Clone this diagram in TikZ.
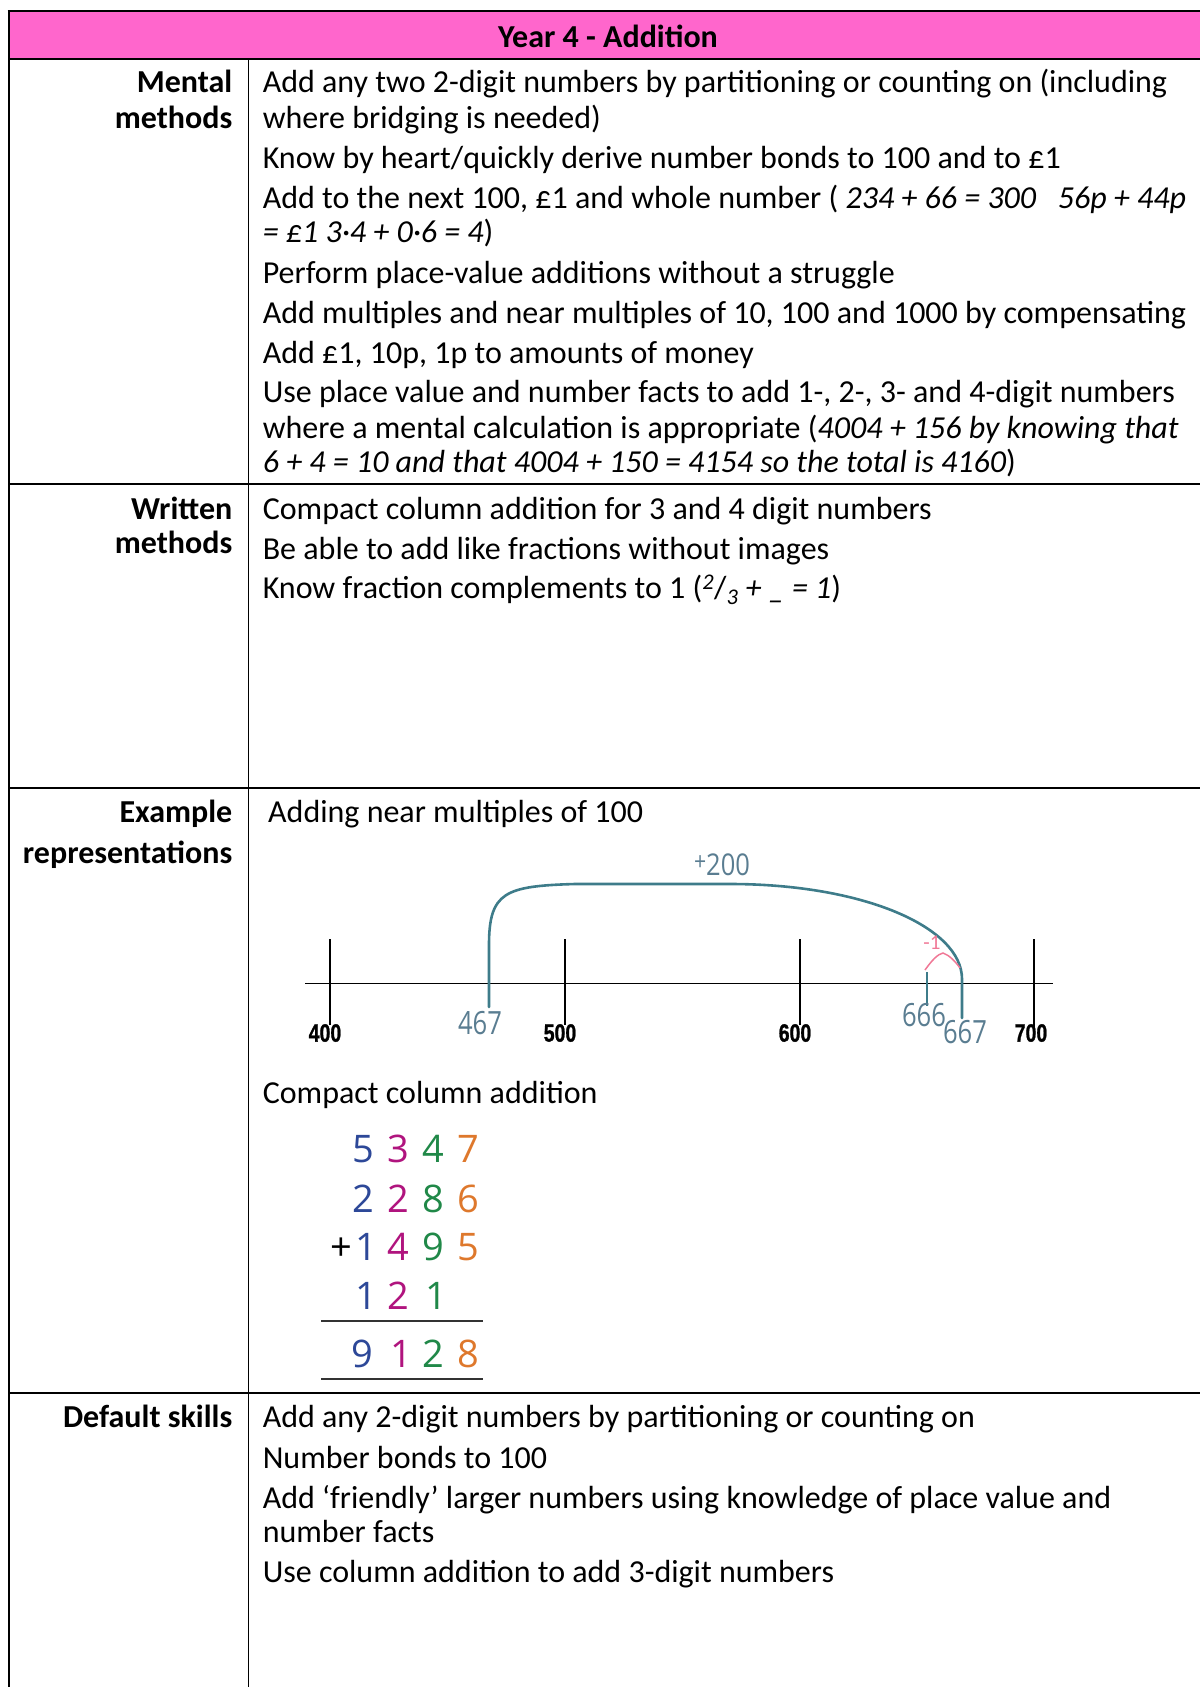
\documentclass[tikz,border=0pt]{standalone}
\usepackage{fontspec}
\setmainfont{Carlito}
\newfontfamily\digitfont{Open Sans}
\newfontfamily\tickfont[FakeBold=1.2]{Liberation Sans}
\begin{document}
\begin{tikzpicture}[x=1pt,y=-1pt]
\definecolor{headpink}{RGB}{255,102,204}
\definecolor{arcteal}{RGB}{62,124,138}
\definecolor{numgrey}{RGB}{90,125,145}
\definecolor{jumppink}{RGB}{240,120,150}
\definecolor{cblue}{RGB}{45,72,152}
\definecolor{cmag}{RGB}{176,20,126}
\definecolor{cgreen}{RGB}{32,136,72}
\definecolor{corange}{RGB}{222,120,44}
\tikzset{
  body/.style={anchor=base west, inner sep=0pt, font=\fontsize{32}{35.5}\selectfont},
  lab/.style={anchor=base east, inner sep=0pt, font=\fontsize{32}{35.5}\selectfont\bfseries},
  rule/.style={line width=2pt},
  thinrule/.style={line width=1.2pt},
  dig/.style={anchor=base, inner sep=0pt, font=\digitfont\fontsize{38}{38}\selectfont},
  ticklab/.style={anchor=center, inner sep=0pt, font=\tickfont\bfseries\fontsize{25}{25}\selectfont, xscale=0.78},
  handlab/.style={anchor=center, inner sep=0pt, text=numgrey, font=\digitfont\fontsize{32}{32}\selectfont, xscale=0.8},
}
\useasboundingbox (0,0) rectangle (1200,1687);

% header band
\fill[headpink] (8.6,10.8) rectangle (1200,59);
\node[inner sep=0pt, font=\fontsize{32}{35.5}\selectfont\bfseries] (title) at (608,36.5) {Year 4 - Addition};

% table rules
\draw[rule] (7.6,10.8) -- (1200,10.8);
\draw[rule] (8.6,10.8) -- (8.6,1687);
\draw[rule] (8.6,59) -- (1200,59);
\draw[rule] (8.6,484.3) -- (1200,484.3);
\draw[rule] (8.6,787.8) -- (1200,787.8);
\draw[rule] (8.6,1392.6) -- (1200,1392.6);
\draw[thinrule] (248.6,59) -- (248.6,1687);

\begin{scope}[yshift=-1.5pt]
% row labels
\node[lab] (l1a) at (232.5,91) {Mental};
\node[lab] (l1b) at (232.5,126.5) {methods};
\node[lab] (l2a) at (232.5,517.5) {Written};
\node[lab] (l2b) at (232.5,551.5) {methods};
\node[lab] (l3a) at (232.5,821) {Example};
\node[lab] (l3b) at (232.5,861.5) {representations};
\node[lab] (l4a) at (232.5,1425.5) {Default skills};

% mental methods
\node[body] (m1) at (262.6,91) {Add any two 2-digit numbers by partitioning or counting on (including};
\node[body] (m2) at (262.6,126.5) {where bridging is needed)};
\node[body] (m3) at (262.6,166.5) {Know by heart/quickly derive number bonds to 100 and to £1};
\node[body] (m4) at (262.6,206.5) {Add to the next 100, £1 and whole number ( \textit{234 + 66 = 300\ \ \ 56p + 44p}};
\node[body] (m5) at (262.6,240.8) {\textit{= £1 3·4 + 0·6 = 4})};
\node[body] (m6) at (262.6,281.5) {Perform place-value additions without a struggle};
\node[body] (m7) at (262.6,321.5) {Add multiples and near multiples of 10, 100 and 1000 by compensating};
\node[body] (m8) at (262.6,361.5) {Add £1, 10p, 1p to amounts of money};
\node[body] (m9) at (262.6,401) {Use place value and number facts to add 1-, 2-, 3- and 4-digit numbers};
\node[body] (m10) at (262.6,436.5) {where a mental calculation is appropriate (\textit{4004 + 156 by knowing that}};
\node[body] (m11) at (262.6,471) {\textit{6 + 4 = 10 and that 4004 + 150 = 4154 so the total is 4160})};

% written methods
\node[body] (w1) at (262.6,517.5) {Compact column addition for 3 and 4 digit numbers};
\node[body] (w2) at (262.6,557.5) {Be able to add like fractions without images};
\node[body] (w3) at (262.6,597) {Know fraction complements to 1 (\textsuperscript{\itshape 2}/\textsubscript{\itshape 3}\textit{ + \_ = 1})};

% example representations
\node[body] (e1) at (268,821) {Adding near multiples of 100};
\node[body] (e2) at (262.6,1101.5) {Compact column addition};

% default skills
\node[body] (d1) at (262.6,1425.5) {Add any 2-digit numbers by partitioning or counting on};
\node[body] (d2) at (262.6,1466.5) {Number bonds to 100};
\node[body] (d3) at (262.6,1506.5) {Add ‘friendly’ larger numbers using knowledge of place value and};
\node[body] (d4) at (262.6,1541) {number facts};
\node[body] (d5) at (262.6,1580.5) {Use column addition to add 3-digit numbers};
\end{scope}

% number line
\coordinate (nlL) at (305,983.5);
\coordinate (nlR) at (1053,983.5);
\draw[line width=1.8pt] (nlL) -- (nlR);
\draw[line width=1.2pt] (330,939) -- (330,1025);
\draw[line width=1.2pt] (565,939) -- (565,1025);
\draw[line width=1.2pt] (800,939) -- (800,1025);
\draw[line width=2.4pt] (1034,939) -- (1034,1028);
\node[ticklab] (t400) at (325,1033) {400};
\node[ticklab] (t500) at (560,1033) {500};
\node[ticklab] (t600) at (795,1033) {600};
\node[ticklab] (t700) at (1031,1033) {700};

% jump of +200 and back by 1
\draw[arcteal, line width=2.6pt, line cap=round]
  (489,1007) -- (489,945)
  .. controls (489,892) and (505,886) .. (575,884)
  -- (730,884)
  .. controls (863,884) and (962,927) .. (962,979)
  -- (962,1018);
\draw[arcteal, line width=2.4pt] (927,972) -- (927,1006);
\draw[jumppink, line width=1.5pt] (925,970) .. controls (932,960) and (938,954) .. (943,953)
  .. controls (949,955) and (955,961) .. (960,968);
\node[inner sep=0pt, text=jumppink, font=\fontsize{21}{21}\selectfont] (m1lab) at (932,943) {-1};
\node[handlab] (n467) at (480,1023.5) {467};
\node[handlab] (n666) at (924,1015) {666};
\node[handlab] (n667) at (965,1032) {667};
\node[inner sep=0pt, text=numgrey, font=\digitfont\fontsize{30}{30}\selectfont, xscale=0.85] (p200) at (722,865)
  {\raisebox{5pt}{\fontsize{25}{25}\selectfont+}200};

% compact column addition
\node[dig, text=cblue] (a11) at (363,1162) {5};
\node[dig, text=cmag] (a12) at (398.5,1162) {3};
\node[dig, text=cgreen] (a13) at (433.5,1162) {4};
\node[dig, text=corange] (a14) at (468.5,1162) {7};
\node[dig, text=cblue] (a21) at (363,1212) {2};
\node[dig, text=cmag] (a22) at (398.5,1212) {2};
\node[dig, text=cgreen] (a23) at (433.5,1212) {8};
\node[dig, text=corange] (a24) at (468.5,1212) {6};
\node[dig] (a3p) at (341.7,1260.5) {+};
\node[dig, text=cblue] (a31) at (366,1260.5) {1};
\node[dig, text=cmag] (a32) at (398.5,1260.5) {4};
\node[dig, text=cgreen] (a33) at (433.5,1260.5) {9};
\node[dig, text=corange] (a34) at (468.5,1260.5) {5};
\node[dig, text=cblue] (a41) at (366,1309) {1};
\node[dig, text=cmag] (a42) at (398.5,1309) {2};
\node[dig, text=cgreen] (a43) at (436,1309) {1};
\coordinate (s1L) at (321,1320.7);
\coordinate (s1R) at (483,1320.7);
\draw[line width=2pt, black!80] (s1L) -- (s1R);
\node[dig, text=cblue] (a51) at (362,1367) {9};
\node[dig, text=cmag] (a52) at (401,1367) {1};
\node[dig, text=cgreen] (a53) at (433,1367) {2};
\node[dig, text=corange] (a54) at (468.5,1367) {8};
\coordinate (s2L) at (321,1379.3);
\coordinate (s2R) at (483,1379.3);
\draw[line width=2pt, black!80] (s2L) -- (s2R);
\end{tikzpicture}
\end{document}
